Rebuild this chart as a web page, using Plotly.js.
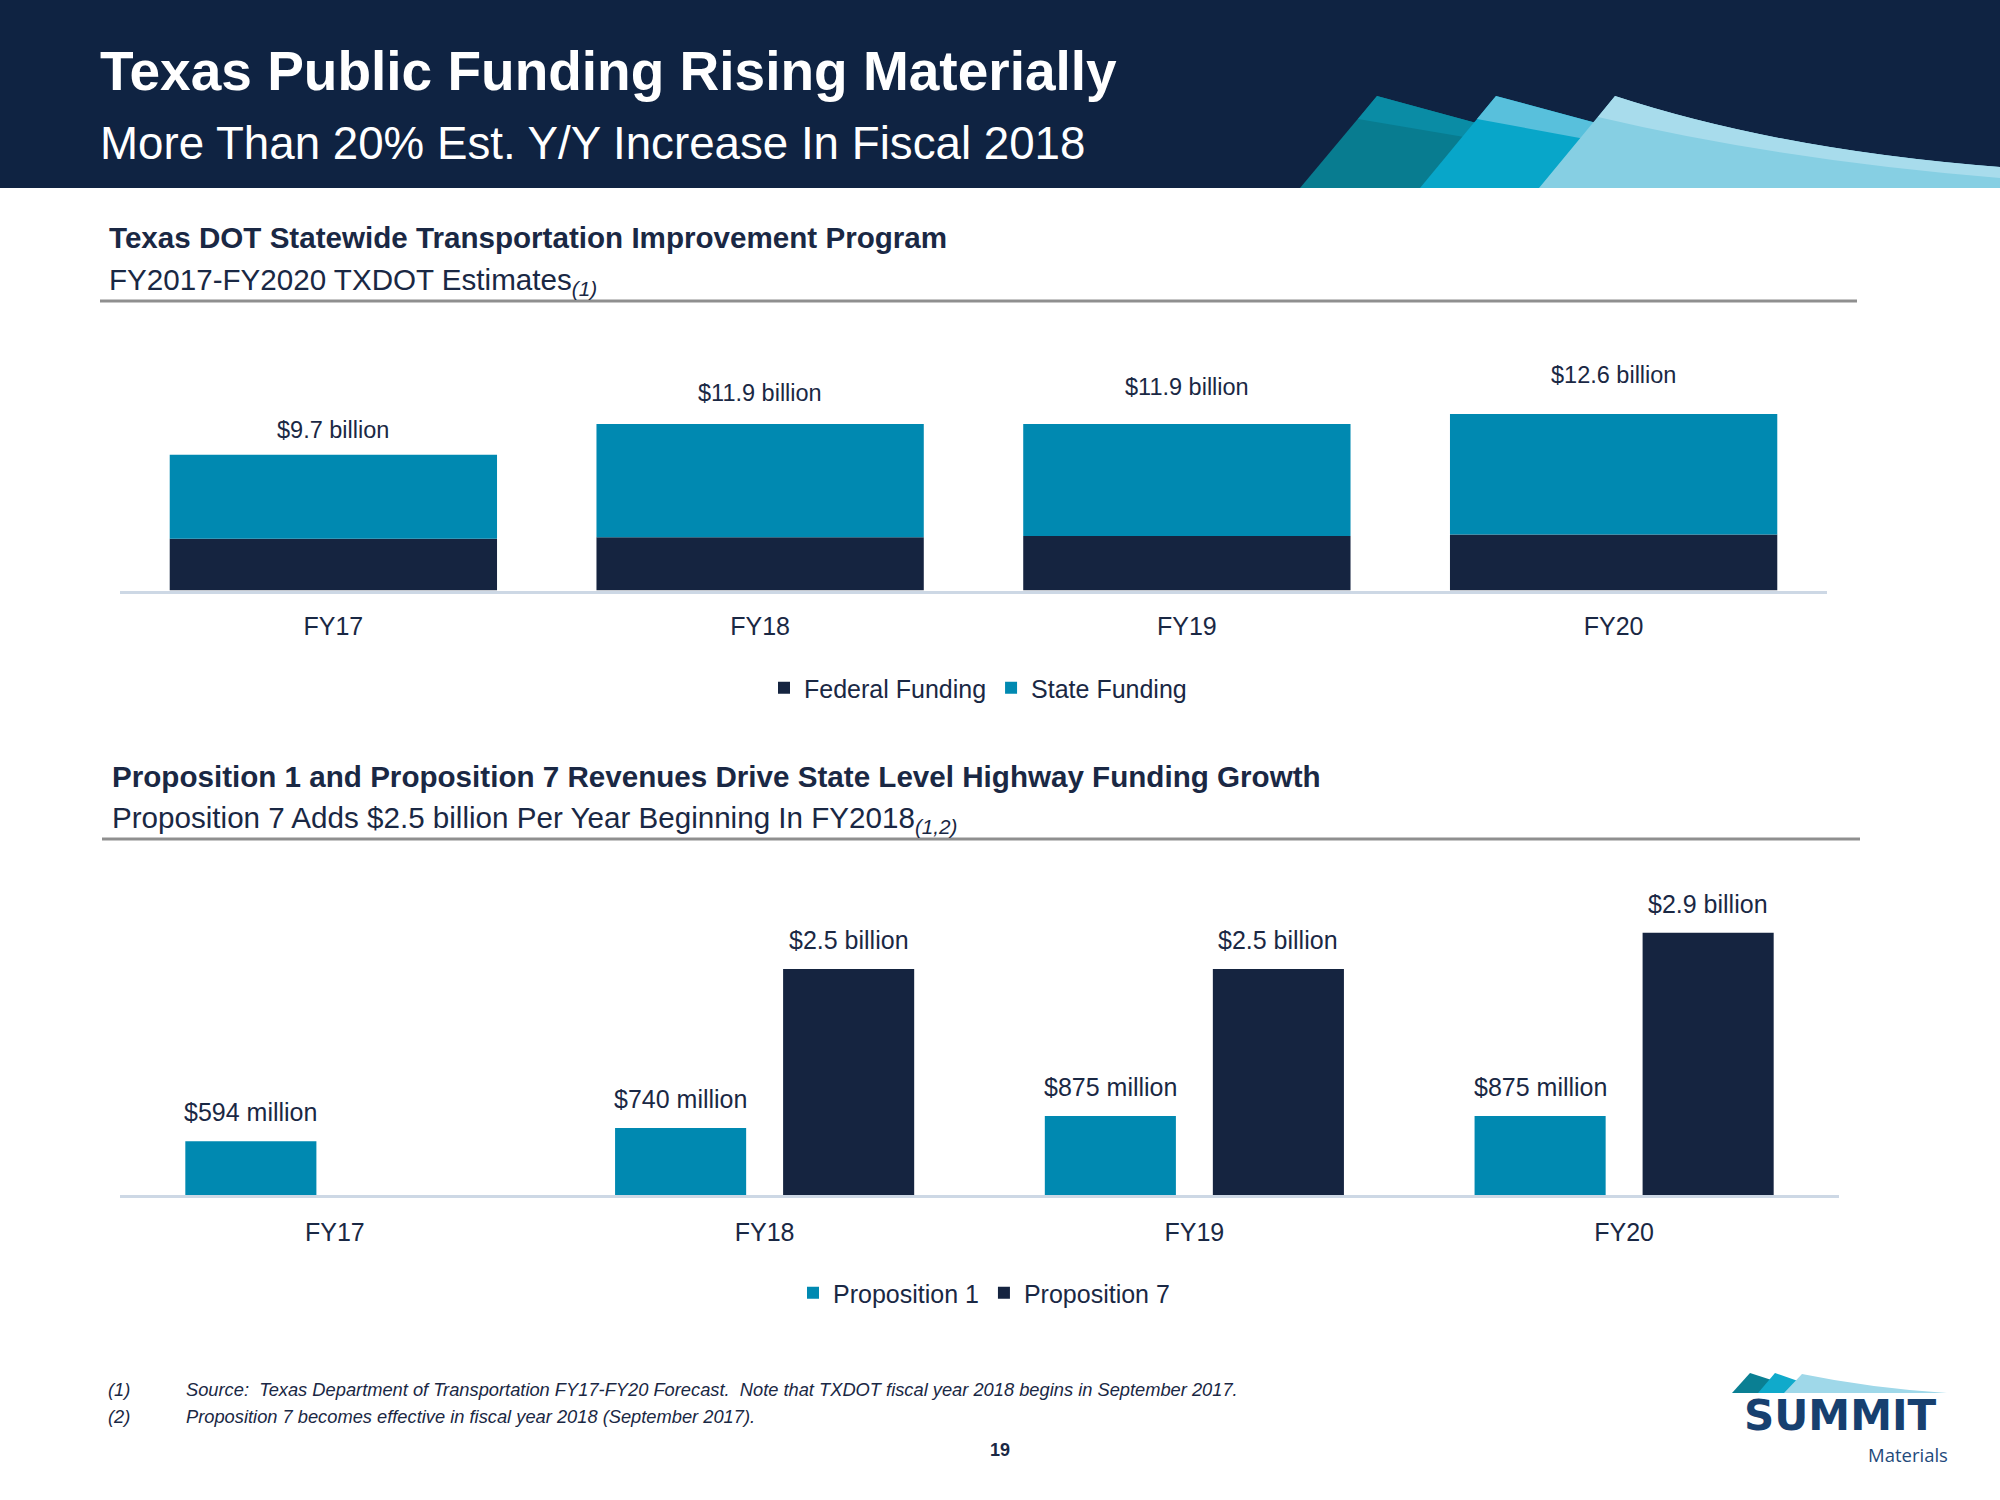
<!DOCTYPE html>
<html>
<head>
<meta charset="utf-8">
<script src="https://cdn.plot.ly/plotly-3.0.1.min.js"></script>
<style>
  html, body { margin: 0; padding: 0; background: #ffffff; }
  #chart { width: 2000px; height: 1500px; }
</style>
</head>
<body>
<div id="chart"></div>
<script>
// ---------------- DATA ----------------
const categories = ['FY17', 'FY18', 'FY19', 'FY20'];
// Texas DOT statewide program, $ billions
const federalFunding = [3.7, 3.8, 3.9, 4.0];
const stateFunding = [6.0, 8.1, 8.0, 8.6];
// Proposition revenues, $ millions
const prop1Millions = [594, 740, 875, 875];
const prop7Millions = [null, 2500, 2500, 2900];

// ---------------- STYLE ----------------
const W = 2000, H = 1500;
const px = x => x / W;
const py = y => 1 - y / H;
const SANS = '"Liberation Sans", Arial, sans-serif';
const NAVY = '#152440';
const TEAL = '#0089b1';
const TEXT = '#1a2844';
const HEADER = '#0f2342';
const AXISLINE = '#cdd8e5';

// chart 1 geometry (category units)
const c1Width = 0.767;
// chart 2 geometry (category units)
const c2Width = 0.305;
const c2Half = 0.1955;
const label1Lift = [10, 16, 22, 24];

const traces = [
  { type: 'bar', name: 'Federal Funding', x: categories, y: federalFunding,
    xaxis: 'x', yaxis: 'y', legend: 'legend',
    width: c1Width, offset: -c1Width / 2,
    marker: { color: NAVY, line: { width: 0 } }, hoverinfo: 'skip' },
  { type: 'bar', name: 'State Funding', x: categories, y: stateFunding, base: federalFunding,
    xaxis: 'x', yaxis: 'y', legend: 'legend',
    width: c1Width, offset: -c1Width / 2,
    marker: { color: TEAL, line: { width: 0 } }, hoverinfo: 'skip' },
  { type: 'bar', name: 'Proposition 1', x: categories, y: prop1Millions,
    xaxis: 'x2', yaxis: 'y2', legend: 'legend2',
    width: c2Width, offset: -c2Half - c2Width / 2,
    marker: { color: TEAL, line: { width: 0 } }, hoverinfo: 'skip' },
  { type: 'bar', name: 'Proposition 7', x: categories, y: prop7Millions,
    xaxis: 'x2', yaxis: 'y2', legend: 'legend2',
    width: c2Width, offset: c2Half - c2Width / 2,
    marker: { color: NAVY, line: { width: 0 } }, hoverinfo: 'skip' }
];

// ---------------- ANNOTATIONS ----------------
const ann = [];
function txt(x, y, text, size, opts) {
  ann.push(Object.assign({
    xref: 'paper', yref: 'paper', x: px(x), y: py(y), text: text,
    showarrow: false, xanchor: 'left', yanchor: 'middle',
    font: { family: SANS, size: size, color: TEXT }
  }, opts || {}));
}
// header
txt(98, 71, '<b>Texas Public Funding Rising Materially</b>', 55, { font: { family: SANS, size: 55, color: '#ffffff' } });
txt(98, 144, 'More Than 20% Est. Y/Y Increase In Fiscal 2018', 45.7, { font: { family: SANS, size: 45.7, color: '#ffffff' } });
// section 1
txt(107, 237, '<b>Texas DOT Statewide Transportation Improvement Program</b>', 29.6);
txt(107, 281, 'FY2017-FY2020 TXDOT Estimates<sub><i>(1)</i></sub>', 29.6);
// section 2
txt(110, 776, '<b>Proposition 1 and Proposition 7 Revenues Drive State Level Highway Funding Growth</b>', 29.6);
txt(110, 819, 'Proposition 7 Adds $2.5 billion Per Year Beginning In FY2018<sub><i>(1,2)</i></sub>', 29.6);
// footnotes
txt(106, 1389, '<i>(1)</i>', 18.3);
txt(184, 1389, '<i>Source:  Texas Department of Transportation FY17-FY20 Forecast.  Note that TXDOT fiscal year 2018 begins in September 2017.</i>', 18.3);
txt(106, 1416, '<i>(2)</i>', 18.3);
txt(184, 1416, '<i>Proposition 7 becomes effective in fiscal year 2018 (September 2017).</i>', 18.3);
// page number
txt(1000, 1450, '<b>19</b>', 18, { xanchor: 'center' });
// logo text
txt(1840, 1415, '<b>SUMMIT</b>', 42, { xanchor: 'center', borderpad: 0,
  font: { family: '"DejaVu Sans", sans-serif', size: 42, color: '#17406f' } });
txt(1949, 1454, 'Materials', 18.5, { xanchor: 'right', borderpad: 0,
  font: { family: '"Open Sans", sans-serif', size: 18.5, color: '#1f4a7c' } });

// data labels chart 1
categories.forEach((c, i) => {
  const total = federalFunding[i] + stateFunding[i];
  ann.push({ xref: 'x', yref: 'y', x: c, y: total, text: '$' + total.toFixed(1) + ' billion',
    showarrow: false, xanchor: 'center', yanchor: 'bottom', yshift: label1Lift[i],
    font: { family: SANS, size: 23.5, color: TEXT } });
});
// data labels chart 2
categories.forEach((c, i) => {
  if (prop1Millions[i] != null) {
    ann.push({ xref: 'x2', yref: 'y2', x: i - c2Half, y: prop1Millions[i],
      text: '$' + Math.round(prop1Millions[i]) + ' million',
      showarrow: false, xanchor: 'center', yanchor: 'bottom', yshift: 13,
      font: { family: SANS, size: 25, color: TEXT } });
  }
  if (prop7Millions[i] != null) {
    ann.push({ xref: 'x2', yref: 'y2', x: i + c2Half, y: prop7Millions[i],
      text: '$' + (prop7Millions[i] / 1000).toFixed(1) + ' billion',
      showarrow: false, xanchor: 'center', yanchor: 'bottom', yshift: 13,
      font: { family: SANS, size: 25, color: TEXT } });
  }
});

// ---------------- SHAPES ----------------
function P(pts) {
  return pts.map(p => {
    const cmd = p[0];
    const nums = [];
    for (let k = 1; k < p.length; k += 2) nums.push(px(p[k]) + ',' + py(p[k + 1]));
    return cmd + nums.join(' ');
  }).join(' ') + ' Z';
}
function poly(pts, color) {
  return { type: 'path', xref: 'paper', yref: 'paper', path: P(pts), fillcolor: color, line: { width: 0 } };
}
const shapes = [
  { type: 'rect', xref: 'paper', yref: 'paper', x0: 0, x1: 1, y0: py(188), y1: 1,
    fillcolor: HEADER, line: { width: 0 }, layer: 'below' },
  // header decoration: shape 1
  poly([['M', 1300, 188], ['L', 1377, 96], ['L', 1480, 124], ['L', 1440, 188]], '#087c90'),
  poly([['M', 1377, 96], ['L', 1358, 119], ['L', 1476, 139], ['L', 1480, 124]], '#0a8ca5'),
  // shape 2
  poly([['M', 1420, 188], ['L', 1496, 96], ['L', 1600, 124], ['L', 1560, 188]], '#08a6c9'),
  poly([['M', 1496, 96], ['L', 1477, 119], ['L', 1596, 141], ['L', 1600, 124]], '#58c0dc'),
  // shape 3
  poly([['M', 1539, 188], ['L', 1615, 96], ['Q', 1780, 150, 2000, 167], ['L', 2000, 188]], '#86cfe3'),
  poly([['M', 1615, 96], ['L', 1598, 117], ['Q', 1780, 160, 2000, 178], ['L', 2000, 167], ['Q', 1780, 150, 1615, 96]], '#a8dcec'),
  // separator lines
  { type: 'line', xref: 'paper', yref: 'paper', x0: px(100), x1: px(1857), y0: py(301), y1: py(301),
    line: { color: '#8f8f8f', width: 3 } },
  { type: 'line', xref: 'paper', yref: 'paper', x0: px(102), x1: px(1860), y0: py(839), y1: py(839),
    line: { color: '#8f8f8f', width: 3 } },
  // logo mountains
  poly([['M', 1732, 1393], ['L', 1750, 1373], ['L', 1790, 1386], ['L', 1780, 1393]], '#0a7f93'),
  poly([['M', 1758, 1393], ['L', 1775, 1373], ['L', 1815, 1387], ['L', 1805, 1393]], '#10aacb'),
  poly([['M', 1784, 1393], ['L', 1802, 1374], ['Q', 1870, 1388, 1947, 1393]], '#9fd8e9')
];

// ---------------- LAYOUT ----------------
const axisX = (domain, anchor, standoff) => ({
  domain: domain, anchor: anchor, type: 'category',
  showline: true, linecolor: AXISLINE, linewidth: 3, ticks: '',
  ticklabelstandoff: standoff,
  showgrid: false, zeroline: false, fixedrange: true,
  tickfont: { family: SANS, size: 25, color: TEXT }
});
const layout = {
  width: W, height: H,
  margin: { l: 0, r: 0, t: 0, b: 0 },
  paper_bgcolor: '#ffffff', plot_bgcolor: 'rgba(0,0,0,0)',
  barmode: 'overlay',
  showlegend: true,
  xaxis: axisX([px(120), px(1827)], 'y', 11),
  yaxis: { domain: [py(590.5), py(380.5)], range: [0, 15], visible: false, fixedrange: true },
  xaxis2: axisX([px(120), px(1839)], 'y2', 13),
  yaxis2: { domain: [py(1195), py(905.7)], range: [0, 3200], visible: false, fixedrange: true },
  legend: { orientation: 'h', x: px(978), xanchor: 'center', y: py(688), yanchor: 'middle',
    traceorder: 'normal', bgcolor: 'rgba(0,0,0,0)',
    font: { family: SANS, size: 25, color: TEXT } },
  legend2: { orientation: 'h', x: px(984), xanchor: 'center', y: py(1293), yanchor: 'middle',
    traceorder: 'normal', bgcolor: 'rgba(0,0,0,0)',
    font: { family: SANS, size: 25, color: TEXT } },
  annotations: ann,
  shapes: shapes
};

Plotly.newPlot('chart', traces, layout, { displayModeBar: false, staticPlot: true });
</script>
</body>
</html>
